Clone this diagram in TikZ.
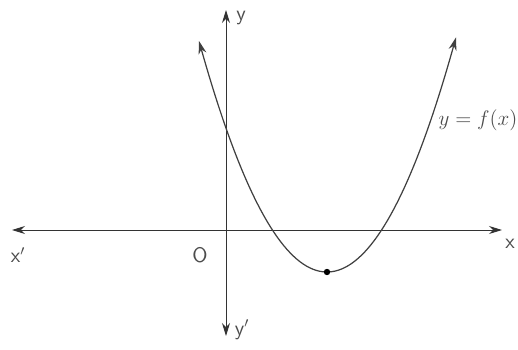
\documentclass[tikz,border=0pt]{standalone}
\usepackage{amsmath}
\usepackage{tikz}
\usetikzlibrary{arrows.meta}

\begin{document}
\begin{tikzpicture}[
    x=0.02cm, y=-0.02cm,
    axis/.style={-{Stealth[length=2.6mm, width=1.6mm]}, line width=0.5pt, black!80},
    curve/.style={{Stealth[length=2.6mm, width=1.6mm]}-{Stealth[length=2.6mm, width=1.6mm]}, line width=0.7pt, black!75},
    lbl/.style={font=\sffamily\large, text=black!70},
]
\useasboundingbox (0,0) rectangle (518,349);

% Axes
\coordinate (o) at (226,230);
\coordinate (xl) at (12,230);
\coordinate (xr) at (502,230);
\coordinate (yt) at (226,10);
\coordinate (yb) at (226,336);
\draw[axis] (o) -- (xl);
\draw[axis] (o) -- (xr);
\draw[axis] (o) -- (yt);
\draw[axis] (o) -- (yb);

\node[lbl] (xneg) at (18,255) {x$'$};
\node[lbl] (xpos) at (510,244) {x};
\node[lbl] (ypos) at (241,18) {y};
\node[lbl] (yneg) at (242,330) {y$'$};
\node[lbl] (orig) at (200,255) {O};

% Parabola
\draw[curve] plot[domain=199:456, samples=80] (\x, {272-1.41*((\x-327)/10)^2});
\fill[black] (327,272) circle (3.2);
\node[font=\large, text=black!70] (fx) at (478,120) {$y=f(x)$};
\end{tikzpicture}
\end{document}
